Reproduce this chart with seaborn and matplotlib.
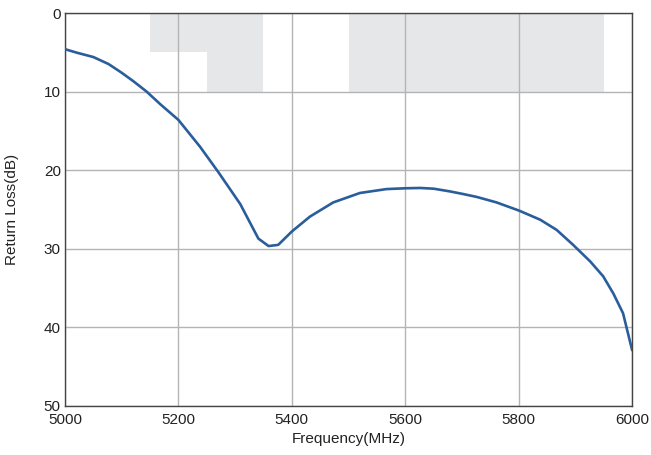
import numpy as np
import pandas as pd
import matplotlib
matplotlib.use("Agg")
import matplotlib.pyplot as plt
import seaborn as sns

# curva
freq_mhz = [5000, 5021, 5050, 5077, 5100, 5121, 5144, 5168, 5200, 5238, 5270,
            5309, 5341, 5359, 5376, 5400, 5432, 5473, 5520, 5567, 5600, 5626,
            5650, 5679, 5700, 5726, 5761, 5801, 5838, 5867, 5896, 5926, 5949,
            5967, 5984, 6000]
return_loss = [4.6, 5.05, 5.6, 6.5, 7.6, 8.7, 10.0, 11.6, 13.6, 17.0, 20.2,
               24.3, 28.7, 29.65, 29.5, 27.8, 25.9, 24.1, 22.9, 22.4, 22.3, 22.26,
               22.35, 22.7, 23.0, 23.4, 24.1, 25.15, 26.3, 27.6, 29.5, 31.6, 33.5,
               35.7, 38.2, 42.9]

# bandas grises (mascara)
band_start = [5150, 5250, 5500]
band_end = [5350, 5350, 5950]
band_top = [0, 0, 0]
band_bottom = [5, 10, 10]

sns.set_style("white")
plt.rcParams['font.family'] = ['Liberation Sans', 'DejaVu Sans']

df = pd.DataFrame({'Frecuencia': freq_mhz, 'RL': return_loss})

fig = plt.figure(figsize=(6.51, 4.55), dpi=100)
ax = fig.add_axes([0.0998, 0.1077, 0.8712, 0.8637])

for x0, x1, y0, y1 in zip(band_start, band_end, band_top, band_bottom):
    ax.fill_between([x0, x1], y0, y1, color='#e6e7e9', linewidth=0, zorder=0)

sns.lineplot(data=df, x='Frecuencia', y='RL', ax=ax, color='#2a5d9b', linewidth=1.9, zorder=3)

ax.set_xlim(5000, 6000)
ax.set_ylim(50, 0)
ax.set_xticks(np.arange(5000, 6001, 200))
ax.set_yticks(np.arange(0, 51, 10))
ax.grid(True, color='#b4b4b4', linewidth=1.0, zorder=1)
ax.set_axisbelow(True)
ax.tick_params(axis='y', length=0, labelsize=11, pad=3, colors='#222222')
ax.tick_params(axis='x', length=0, labelsize=11, pad=5, colors='#222222')
for s in ax.spines.values():
    s.set_color('#444444')
    s.set_linewidth(1.0)

ax.set_xlabel('Frequency(MHz)', fontsize=11, color='#222222', labelpad=4)
ax.set_ylabel('Return Loss(dB)', fontsize=11, color='#222222', labelpad=18)

fig.savefig('out.png', dpi=100)
